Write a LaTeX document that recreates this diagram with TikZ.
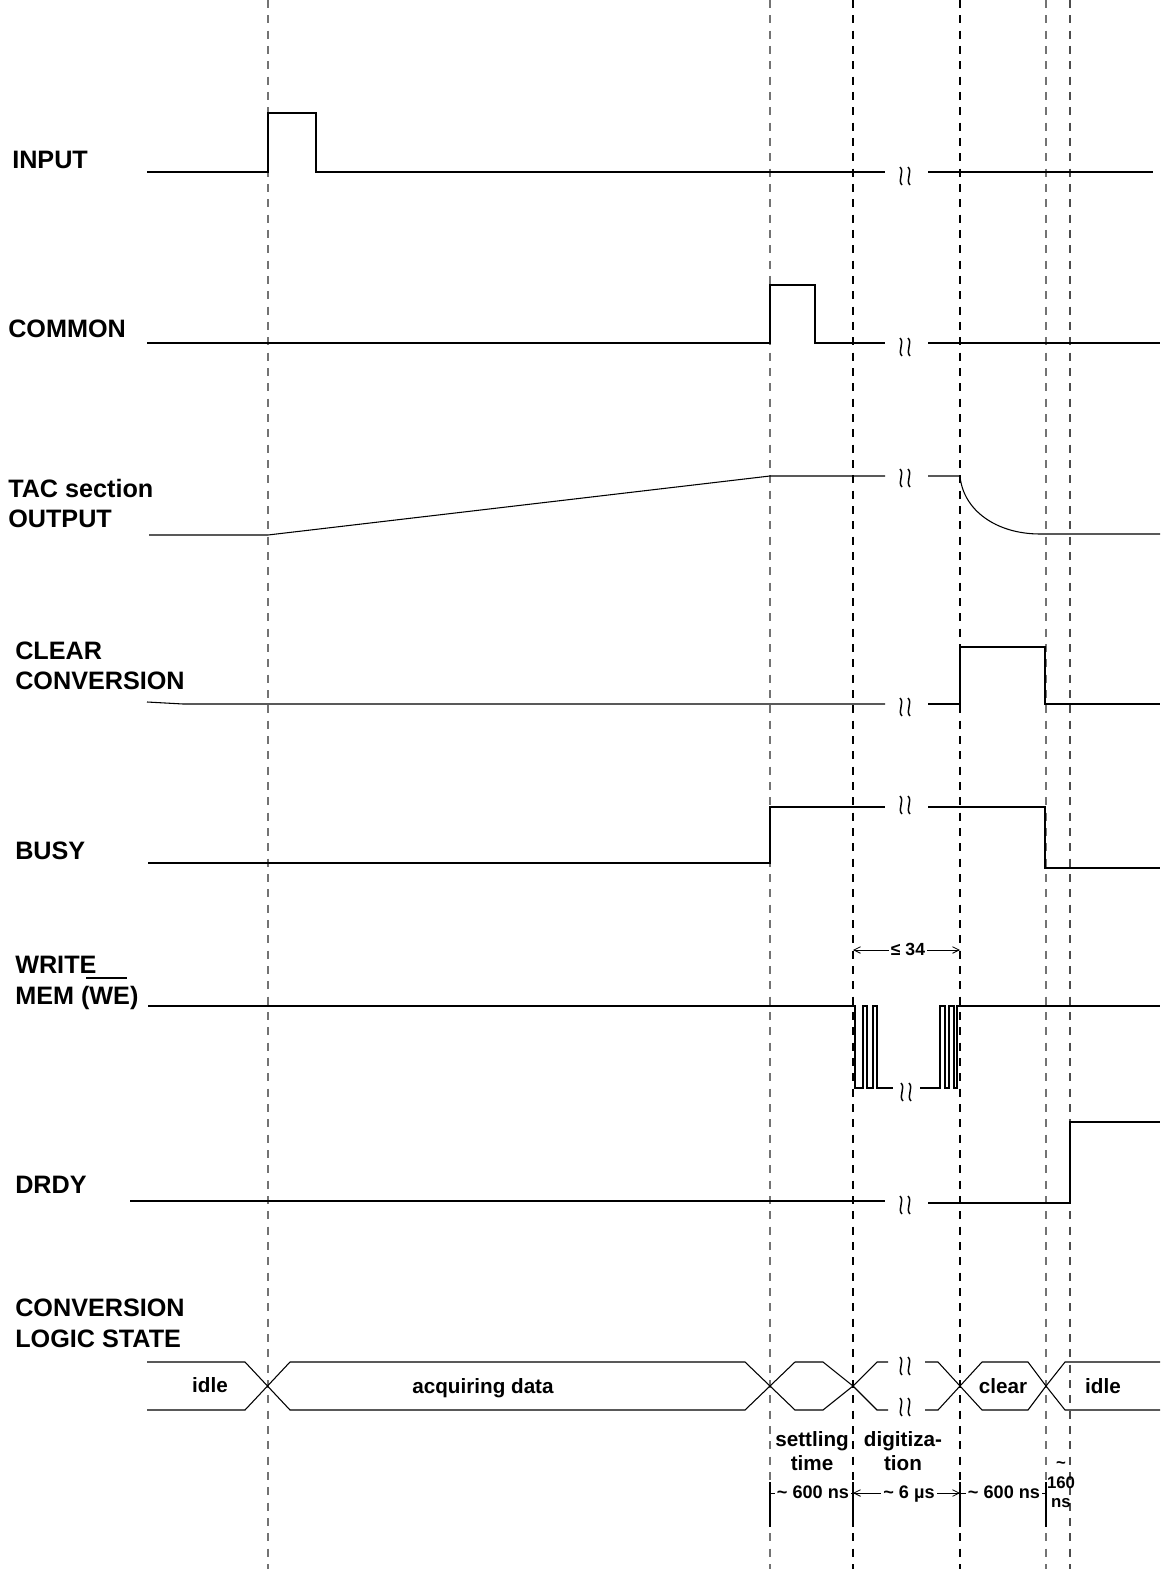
\documentclass[tikz,border=0pt]{standalone}
\usepackage{fontspec}
\setmainfont{Liberation Sans}
\usetikzlibrary{arrows.meta}
\tikzset{
  sig/.style={line width=0.8pt, black},
  gridd/.style={line width=0.8pt, dash pattern=on 6pt off 5.5pt},
  lbl/.style={anchor=base west, font=\fontsize{18.9}{22}\selectfont\bfseries, inner sep=0pt},
  stlbl/.style={anchor=base, font=\fontsize{15.5}{18}\selectfont\bfseries, inner sep=0pt},
  dimlbl/.style={anchor=base, font=\fontsize{13.6}{16}\selectfont\bfseries, inner sep=1.5pt, fill=white},
  smlbl/.style={anchor=base, font=\fontsize{12.6}{15}\selectfont\bfseries, inner sep=0pt},
  barb/.style={line width=0.6pt, {Straight Barb[length=5pt,width=5pt]}-{Straight Barb[length=5pt,width=5pt]}},
  brkpic/.pic={
    \draw[line width=1.1pt] (-5,-9) .. controls (0,-4) and (-8,4) .. (-3,9);
    \draw[line width=1.1pt] (3,-9) .. controls (8,-4) and (0,4) .. (5,9);
  }
}
\begin{document}
\begin{tikzpicture}[x=0.75pt,y=-0.75pt]
\useasboundingbox (0,0) rectangle (1163,1569);

% vertical dashed reference lines
\draw[gridd, black!55] (268,0) -- (268,1569);
\draw[gridd, black!55] (770,0) -- (770,1569);
\draw[gridd, black] (853,0) -- (853,1569);
\draw[gridd, black] (960,0) -- (960,1569);
\draw[gridd, black!55] (1046,0) -- (1046,1569);
\draw[gridd, black!70] (1070,0) -- (1070,1569);

% signal names
\node[lbl] (lin) at (12,169) {INPUT};
\node[lbl] (lcom) at (8,338) {COMMON};
\node[lbl] (ltac1) at (8,497) {TAC section};
\node[lbl] (ltac2) at (8,527) {OUTPUT};
\node[lbl] (lclr1) at (15,659) {CLEAR};
\node[lbl] (lclr2) at (15,689) {CONVERSION};
\node[lbl] (lbusy) at (15,859) {BUSY};
\node[lbl] (lwr1) at (15,973) {WRITE};
\node[lbl] (lwr2) at (15,1004) {MEM (WE)};
\draw[line width=0.8pt] (86,978) -- (127,978);
\node[lbl] (ldrdy) at (15,1193) {DRDY};
\node[lbl] (lcv1) at (15,1316) {CONVERSION};
\node[lbl] (lcv2) at (15,1347) {LOGIC STATE};

% INPUT
\draw[sig] (147,172) -- (268,172) -- (268,113) -- (316,113) -- (316,172) -- (885,172);
\draw[sig] (928,172) -- (1153,172);
\pic at (905,176) {brkpic};

% COMMON
\draw[sig] (147,343) -- (770,343) -- (770,285) -- (815,285) -- (815,343) -- (885,343);
\draw[sig] (928,343) -- (1160,343);
\pic at (905,347) {brkpic};

% TAC OUTPUT
\draw[sig] (149,535) -- (268,535) -- (770,476) -- (885,476);
\draw[sig] (928,476) -- (960,476) .. controls (963,510) and (996,534) .. (1040,534) -- (1160,534);
\pic at (905,478) {brkpic};

% CLEAR CONVERSION
\draw[sig] (147,702) -- (183,704) -- (885,704);
\draw[sig] (928,704) -- (960,704) -- (960,647) -- (1045,647) -- (1045,704) -- (1160,704);
\pic at (905,707) {brkpic};

% BUSY
\draw[sig] (148,863) -- (770,863) -- (770,807) -- (885,807);
\draw[sig] (928,807) -- (1045,807) -- (1045,868) -- (1160,868);
\pic at (905,805) {brkpic};

% WRITE MEM (WE)
\draw[sig] (148,1006) -- (855,1006) -- (855,1088) -- (863,1088) -- (863,1006) -- (867,1006) -- (867,1088)
  -- (873,1088) -- (873,1006) -- (877,1006) -- (877,1088) -- (893,1088);
\draw[sig] (920,1088) -- (940,1088) -- (940,1006) -- (945,1006) -- (945,1088) -- (949,1088) -- (949,1006)
  -- (954,1006) -- (954,1088) -- (957,1088) -- (957,1006) -- (1160,1006);
\pic at (906,1092) {brkpic};
\coordinate (w34a) at (853,950);
\coordinate (w34b) at (960,950);
\draw[barb] (w34a) -- (w34b);
\node[dimlbl, font=\fontsize{13.2}{15}\selectfont\bfseries] (l34) at (908,955) {≤ 34};

% DRDY
\draw[sig] (130,1201) -- (885,1201);
\draw[sig] (928,1203) -- (1070,1203) -- (1070,1122) -- (1160,1122);
\pic at (905,1205) {brkpic};

% CONVERSION LOGIC STATE bus
\draw[sig] (147,1362) -- (245,1362) -- (290,1410) -- (745,1410) -- (770,1386) -- (795,1410) -- (823,1410) -- (853,1386) -- (877,1410) -- (888,1410);
\draw[sig] (147,1410) -- (245,1410) -- (290,1362) -- (745,1362) -- (770,1386) -- (795,1362) -- (823,1362) -- (853,1386) -- (877,1362) -- (888,1362);
\draw[sig] (925,1362) -- (938,1362) -- (960,1386) -- (982,1410) -- (1028,1410) -- (1046,1386) -- (1065,1410) -- (1160,1410);
\draw[sig] (925,1410) -- (938,1410) -- (960,1386) -- (982,1362) -- (1028,1362) -- (1046,1386) -- (1065,1362) -- (1160,1362);
\pic at (905,1366) {brkpic};
\pic at (905,1407) {brkpic};
\node[stlbl] (sidle1) at (210,1392) {idle};
\node[stlbl] (sacq) at (483,1393) {acquiring data};
\node[stlbl] (sclr) at (1003,1393) {clear};
\node[stlbl] (sidle2) at (1103,1393) {idle};

% phase labels
\node[stlbl] (pset1) at (812,1446) {settling};
\node[stlbl] (pset2) at (812,1470) {time};
\node[stlbl] (pdig1) at (903,1446) {digitiza-};
\node[stlbl] (pdig2) at (903,1470) {tion};

% duration dimensions
\draw[line width=0.8pt] (770,1482) -- (770,1527);
\draw[line width=0.8pt] (853,1482) -- (853,1527);
\draw[line width=0.8pt] (960,1482) -- (960,1527);
\draw[line width=0.8pt] (1046,1482) -- (1046,1527);
\coordinate (d1) at (770,1493);
\coordinate (d2) at (853,1493);
\coordinate (d3) at (960,1493);
\coordinate (d4) at (1046,1493);
\draw[line width=0.6pt] (d1) -- (d2);
\draw[barb] (d2) -- (d3);
\draw[line width=0.6pt] (d3) -- (d4);
\node[dimlbl] (t600a) at (813,1498.5) {\textasciitilde\ 600 ns};
\node[dimlbl] (t6us) at (909,1498.5) {\textasciitilde\ 6 µs};
\node[dimlbl] (t600b) at (1004,1498.5) {\textasciitilde\ 600 ns};
\node[smlbl] (t160a) at (1061,1468) {\textasciitilde};
\node[smlbl] (t160b) at (1061,1488) {160};
\node[smlbl] (t160c) at (1061,1507) {ns};
\end{tikzpicture}
\end{document}
